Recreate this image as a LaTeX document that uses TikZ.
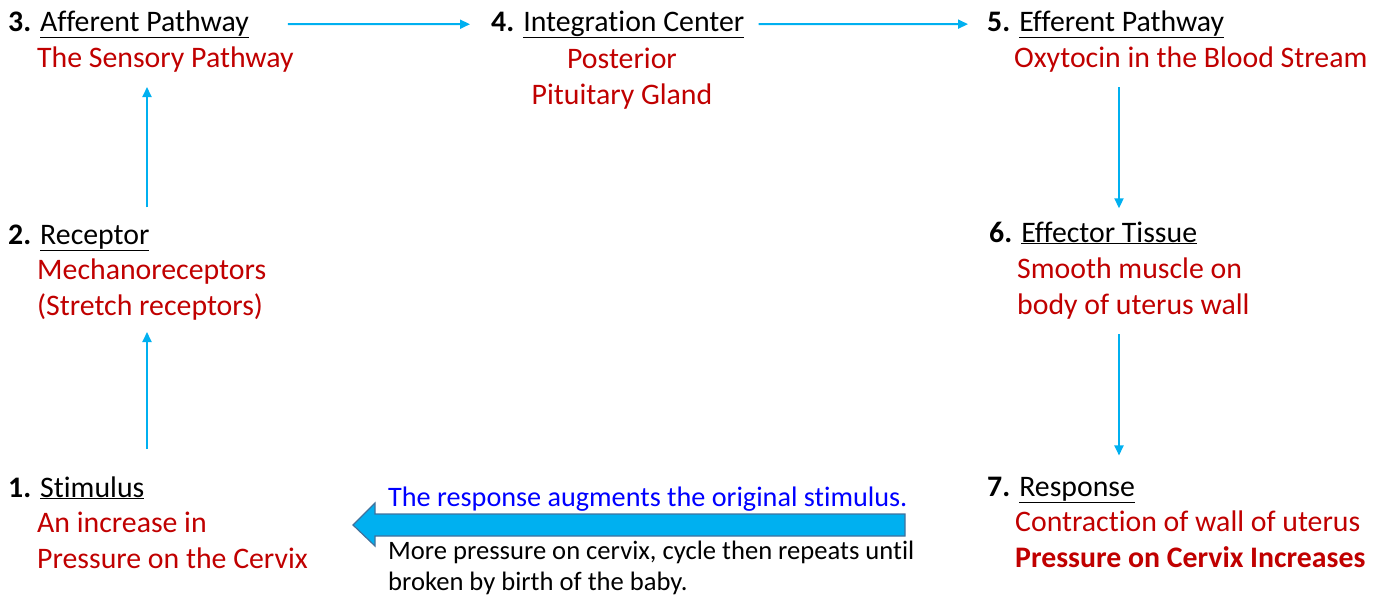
\documentclass[tikz,border=0pt]{standalone}
\usepackage{fontspec}
\setmainfont[RawFeature={-liga;-clig;-calt;-dlig}]{Carlito}
\usetikzlibrary{arrows.meta}
\definecolor{darkred}{RGB}{192,0,0}
\definecolor{skyblue}{RGB}{0,176,240}
\definecolor{edgeblue}{RGB}{65,113,156}
\newcommand{\bigfont}{\fontsize{29.8}{36}\selectfont}
\newcommand{\midfont}{\fontsize{28.2}{34}\selectfont}
\newcommand{\smallfont}{\fontsize{26.6}{31}\selectfont}

\begin{document}
\begin{tikzpicture}[x=1pt, y=-1pt,
  head/.style={inner sep=0pt, anchor=base west, font=\bigfont},
  body/.style={inner sep=0pt, anchor=base west, align=left, font=\bigfont, text=darkred},
  flow/.style={draw=skyblue, line width=2pt, -{Triangle[length=10pt, width=9pt]}},
  bigarrow/.style={fill=skyblue, draw=edgeblue, line width=1.2pt, line join=miter}]
  \useasboundingbox (0,0) rectangle (1387,595);

  % headers
  \node[head] (h3) at (8,31) {\textbf{3.} \underline{Afferent Pathway}};
  \node[head] (h4) at (491,31) {\textbf{4.} \underline{Integration Center}};
  \node[head] (h5) at (987,31) {\textbf{5.} \underline{Efferent Pathway}};
  \node[head] (h2) at (8,244) {\textbf{2.} \underline{Receptor}};
  \node[head] (h6) at (989,242) {\textbf{6.} \underline{Effector Tissue}};
  \node[head] (h1) at (8,497) {\textbf{1.} \underline{Stimulus}};
  \node[head] (h7) at (987,496) {\textbf{7.} \underline{Response}};

  % red descriptions (base = last line)
  \node[body] (b3) at (37,67) {The Sensory Pathway};
  \node[body, align=center, anchor=base] (b4) at (622,104) {Posterior\\Pituitary Gland};
  \node[body] (b5) at (1014,67) {Oxytocin in the Blood Stream};
  \node[body] (b2) at (37,315) {Mechanoreceptors\\(Stretch receptors)};
  \node[body] (b6) at (1017,314) {Smooth muscle on\\body of uterus wall};
  \node[body] (b1) at (37,568) {An increase in\\Pressure on the Cervix};
  \node[body] (b7) at (1015,567) {Contraction of wall of uterus\\\textbf{Pressure on Cervix Increases}};

  % feedback note
  \node[head, font=\midfont, text=blue] (fb) at (388,506) {The response augments the original stimulus.};
  \node[head, font=\smallfont, align=left] (note) at (388,590) {More pressure on cervix, cycle then repeats until\\broken by birth of the baby.};

  \coordinate (lx) at (147,0);
  \coordinate (rx) at (1119,0);

  \draw[flow, shorten <=39pt, shorten >=21pt] (h3) -- (h4);
  \draw[flow, shorten <=14pt, shorten >=19pt] (h4) -- (h5);
  \draw[flow, shorten <=15pt, shorten >=13pt] (b5.south -| rx) -- (h6.north -| rx);
  \draw[flow, shorten <=15pt, shorten >=21pt] (b6.south -| rx) -- (h7.north -| rx);
  \draw[flow, shorten <=27pt, shorten >=12pt] (h1.north -| lx) -- (b2.south -| lx);
  \draw[flow, shorten <=17pt, shorten >=15pt] (h2.north -| lx) -- (b3.south -| lx);

  \draw[bigarrow] (905,514) -- (375,514) -- (375,503) -- (353,525) -- (375,546) -- (375,536) -- (905,536) -- cycle;
\end{tikzpicture}
\end{document}
